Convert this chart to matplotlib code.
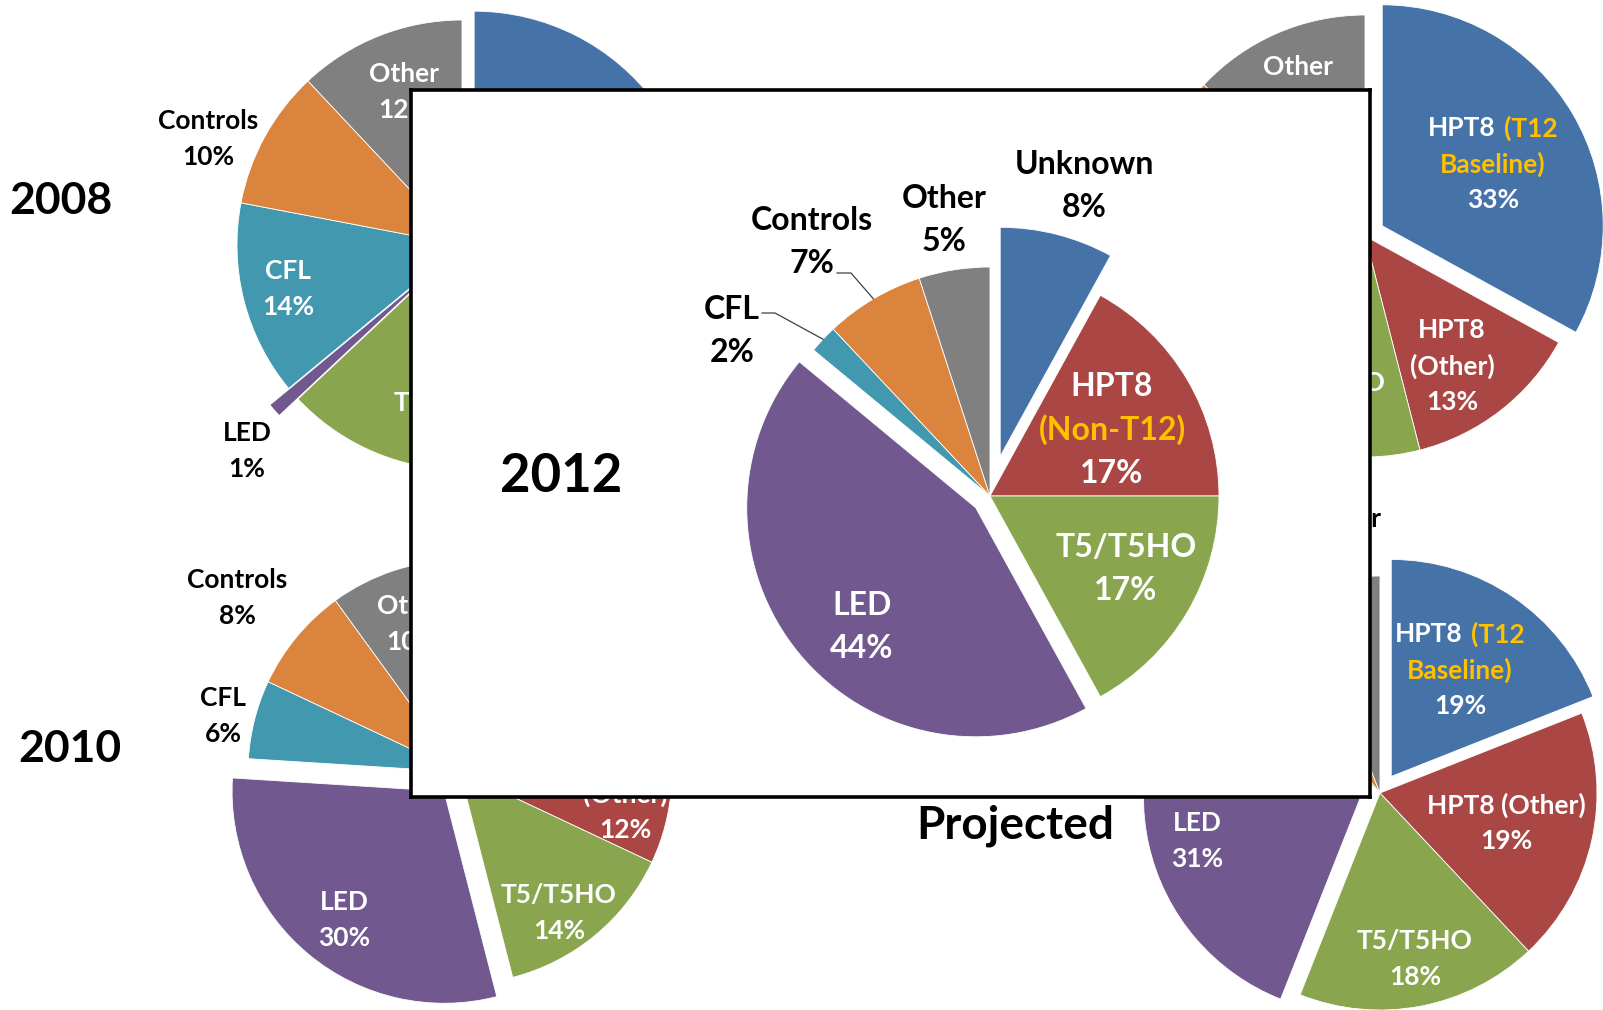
import numpy as np
import matplotlib.pyplot as plt
from matplotlib.offsetbox import TextArea, HPacker, AnnotationBbox

plt.rcParams['font.family'] = ['Lato', 'DejaVu Sans']

W, H = 1603, 1010   # output size in pixels, also used as drawing units

# ---- data ----------------------------------------------------------------
categories = ['HPT8 (T12 Baseline)', 'HPT8 (Other)', 'T5/T5HO', 'LED', 'CFL', 'Controls', 'Other']
share_2008 = [30, 9, 24, 1, 14, 10, 12]
share_2010 = [20, 12, 14, 30, 6, 8, 10]
share_2011 = [33, 13, 15, 16, 4, 6, 13]      # upper right pie, title is under the 2012 box
share_projected = [19, 19, 18, 31, 2, 5, 6]

categories_2012 = ['Unknown', 'HPT8 (Non-T12)', 'T5/T5HO', 'LED', 'CFL', 'Controls', 'Other']
share_2012 = [8, 17, 17, 44, 2, 7, 5]

colors = ['#4572A7', '#AA4643', '#89A54E', '#71588F', '#4198AF', '#DB843D', '#808080']
WHITE = 'white'
GOLD = '#FFC000'
BLACK = 'black'

# ---- layout (pixel positions, y measured from the top) ---------------------
# labels: (category index, x, y, text colour, split "HPT8 (Other)" on two lines)
pie_2008 = dict(center=(462, 245), r=225, explode=[15, 0, 0, 25, 0, 0, 0],
                title=('2008', 61, 201, 32),
                labels=[(0, 571, 166, WHITE, True), (1, 574, 320, WHITE, True),
                        (2, 452, 421, WHITE, True), (3, 247, 451, BLACK, True),
                        (4, 288, 289, WHITE, True), (5, 208, 139, BLACK, True),
                        (6, 404, 92, WHITE, True)])
pie_2010 = dict(center=(460, 772), r=212, explode=[0, 0, 0, 25, 0, 0, 0],
                title=('2010', 70, 749, 32),
                labels=[(0, 535, 669, WHITE, True), (1, 625, 794, WHITE, True),
                        (2, 559, 913, WHITE, True), (3, 344, 920, WHITE, True),
                        (4, 223, 716, BLACK, True), (5, 237, 598, BLACK, True),
                        (6, 412, 624, WHITE, True)])
pie_2011 = dict(center=(1365, 236), r=221, explode=[20, 0, 0, 0, 0, 0, 0],
                title=None,
                labels=[(0, 1493, 164, WHITE, True), (1, 1452, 366, WHITE, True),
                        (2, 1328, 401, WHITE, True), (3, 1232, 290, WHITE, True),
                        (6, 1298, 85, WHITE, True)])
pie_proj = dict(center=(1380, 793), r=217, explode=[20, 0, 0, 20, 0, 0, 0],
                title=('Projected', 1015, 826, 33),
                labels=[(0, 1460, 670, WHITE, True), (1, 1506, 823, WHITE, False),
                        (2, 1415, 959, WHITE, True), (3, 1197, 841, WHITE, True),
                        (6, 1346, 537, BLACK, True)])
pie_2012 = dict(center=(990, 496), r=229, explode=[41, 0, 0, 18.5, 0, 0, 0],
                title=('2012', 561, 476, 38),
                labels=[(0, 1084, 186, BLACK, True), (1, 1112, 430, WHITE, True),
                        (2, 1126, 569, WHITE, True), (3, 862, 627, WHITE, True),
                        (4, 732, 331, BLACK, True), (5, 812, 242, BLACK, True),
                        (6, 944, 220, BLACK, True)])
leaders_2012 = {4: [(762, 313), (775, 313)], 5: [(837, 273), (851, 273)]}
box = (411, 90, 1370, 797)   # left, top, right, bottom


def label_lines(cat, pct, col, split):
    p = f'{pct}%'
    if cat == 'HPT8 (T12 Baseline)':
        return [[('HPT8', WHITE), ('(T12', GOLD)], [('Baseline)', GOLD)], [(p, WHITE)]]
    if cat == 'HPT8 (Non-T12)':
        return [[('HPT8', WHITE)], [('(Non-T12)', GOLD)], [(p, WHITE)]]
    if cat == 'HPT8 (Other)' and split:
        return [[('HPT8', col)], [('(Other)', col)], [(p, col)]]
    return [[(cat, col)], [(p, col)]]


def put_label(ax, x, y, lines, size, pitch):
    n = len(lines)
    for i, segs in enumerate(lines):
        yy = H - y + ((n - 1) / 2 - i) * pitch
        parts = [TextArea(t, textprops=dict(color=c, fontsize=size, fontweight='bold'))
                 for t, c in segs]
        if len(parts) == 1:
            row = parts[0]
        else:
            row = HPacker(children=parts, align='baseline', pad=0, sep=size * 0.3)
        ax.add_artist(AnnotationBbox(row, (x, yy), frameon=False, pad=0,
                                     box_alignment=(0.5, 0.5), annotation_clip=False))


def draw_pie(ax, values, cats, lay, size, pitch):
    cx, cy = lay['center']
    wedges, _ = ax.pie(values, colors=colors, startangle=90, counterclock=False,
                       center=(cx, H - cy), radius=lay['r'], explode=lay['explode'],
                       wedgeprops=dict(edgecolor='white', linewidth=0.6), frame=True)
    for idx, x, y, col, split in lay['labels']:
        put_label(ax, x, y, label_lines(cats[idx], values[idx], col, split), size, pitch)
    if lay['title']:
        t, x, y, s = lay['title']
        ax.text(x, H - y, t, fontsize=s, fontweight='bold', ha='center', va='center')
    return wedges


fig = plt.figure(figsize=(W / 100, H / 100), dpi=100)
ax = fig.add_axes([0, 0, 1, 1])
draw_pie(ax, share_2008, categories, pie_2008, 19, 36)
draw_pie(ax, share_2010, categories, pie_2010, 19, 36)
draw_pie(ax, share_2011, categories, pie_2011, 19, 36)
draw_pie(ax, share_projected, categories, pie_proj, 19, 36)
ax.set_xlim(0, W)
ax.set_ylim(0, H)
ax.axis('off')

# 2012 box laid over the other pies
l, t, r, b = box
ax_in = fig.add_axes([l / W, (H - b) / H, (r - l) / W, (b - t) / H])
ax_in.set_facecolor('white')
wedges = draw_pie(ax_in, share_2012, categories_2012, pie_2012, 23, 43.5)
for idx, pts in leaders_2012.items():
    w = wedges[idx]
    th = np.deg2rad((w.theta1 + w.theta2) / 2)
    xs = [p[0] for p in pts] + [w.center[0] + w.r * np.cos(th)]
    ys = [H - p[1] for p in pts] + [w.center[1] + w.r * np.sin(th)]
    ax_in.plot(xs, ys, color='#404040', lw=0.9)
ax_in.set_xlim(l, r)
ax_in.set_ylim(H - b, H - t)
ax_in.set_xticks([])
ax_in.set_yticks([])
for s in ax_in.spines.values():
    s.set_linewidth(2.6)
    s.set_color('black')

fig.savefig('out.png', dpi=100)
